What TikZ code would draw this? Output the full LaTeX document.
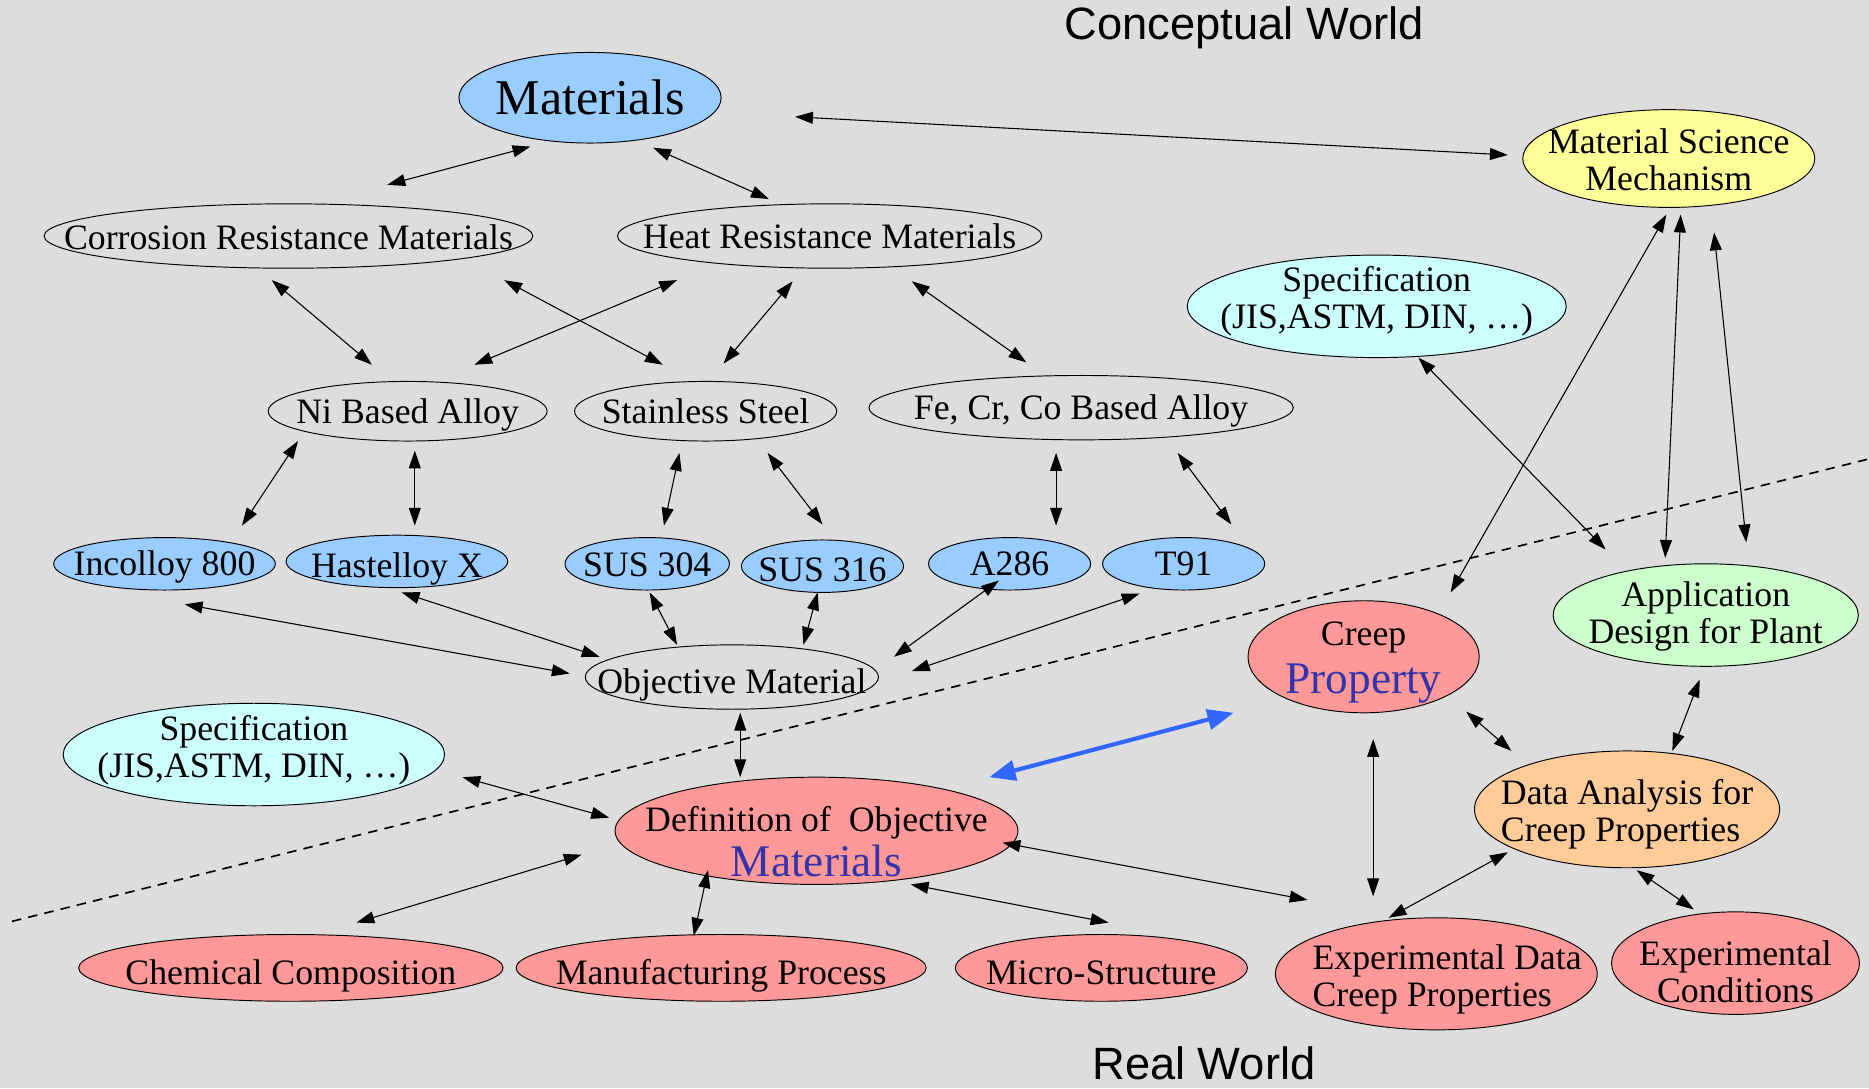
\documentclass[tikz,border=0pt]{standalone}
\usepackage{fontspec}
\setmainfont{Liberation Serif}
\newfontfamily\worldfont{Liberation Sans}
\usetikzlibrary{shapes.geometric,arrows.meta}

\definecolor{bggray}{RGB}{221,221,221}
\definecolor{alloyblue}{RGB}{153,204,255}
\definecolor{speccyan}{RGB}{204,255,255}
\definecolor{mechyellow}{RGB}{255,255,153}
\definecolor{appgreen}{RGB}{204,255,204}
\definecolor{realred}{RGB}{255,153,153}
\definecolor{dataorange}{RGB}{255,204,153}
\definecolor{textblue}{RGB}{51,51,170}
\definecolor{linkblue}{RGB}{51,102,255}

\tikzset{
  blob/.style={ellipse, draw, line width=0.8pt, inner sep=0pt},
  esize/.style 2 args={minimum width=#1pt, minimum height=#2pt},
  lbl/.style={font=\fontsize{30}{31}\selectfont, align=center, inner sep=0pt, yshift=-3pt},
  lblleft/.style={font=\fontsize{30}{31}\selectfont, align=left, inner sep=0pt},
  world/.style={font=\worldfont\fontsize{38}{40}\selectfont, inner sep=0pt},
  link/.style={{Triangle[length=15pt,width=10pt]}-{Triangle[length=15pt,width=10pt]}, line width=0.9pt},
  biglink/.style={{Triangle[length=22pt,width=17pt]}-{Triangle[length=22pt,width=17pt]}, line width=3.5pt, linkblue},
  divide/.style={dash pattern=on 8pt off 6pt, line width=1.4pt},
}

\begin{document}
\begin{tikzpicture}[x=1pt, y=-1pt]
\fill[bggray] (0,0) rectangle (1568,913);
\useasboundingbox (0,0) rectangle (1568,913);

% world boundary
\coordinate (dl) at (10,773);
\coordinate (dr) at (1568,385);
\draw[divide] (dl) -- (dr);

\node[world] (cw) at (1044,23) {Conceptual World};
\node[world] (rw) at (1010,892) {Real World};

% conceptual world
\node[blob, esize={220}{76}, fill=alloyblue, label={[lbl, yshift=3pt, font=\fontsize{42}{44}\selectfont]center:Materials}] (mat) at (495,82) {};
\node[blob, esize={410}{54}, label={[lbl, yshift=2pt]center:Corrosion Resistance Materials}] (cor) at (242,198) {};
\node[blob, esize={356}{54}, label={[lbl, yshift=3pt]center:Heat Resistance Materials}] (heat) at (696,198) {};
\node[blob, esize={234}{50}, label={[lbl]center:Ni Based Alloy}] (ni) at (342,345) {};
\node[blob, esize={220}{50}, label={[lbl, yshift=3pt]center:Stainless Steel}] (ss) at (592,345) {};
\node[blob, esize={356}{54}, label={[lbl]center:{Fe, Cr, Co Based Alloy}}] (fe) at (907,342) {};
\node[blob, esize={186}{44}, fill=alloyblue, label={[lbl]center:Incolloy 800}] (inc) at (138,473) {};
\node[blob, esize={186}{44}, fill=alloyblue, label={[lbl, yshift=-3pt]center:Hastelloy X}] (has) at (333,471) {};
\node[blob, esize={138}{44}, fill=alloyblue, label={[lbl, yshift=2pt]center:SUS 304}] (s304) at (543,473) {};
\node[blob, esize={136}{44}, fill=alloyblue, label={[lbl]center:SUS 316}] (s316) at (690,475) {};
\node[blob, esize={136}{44}, fill=alloyblue, label={[lbl, yshift=3pt]center:A286}] (a286) at (847,473) {};
\node[blob, esize={136}{44}, fill=alloyblue, label={[lbl, yshift=3pt]center:T91}] (t91) at (993,473) {};
\node[blob, esize={246}{54}, label={[lbl, yshift=-4pt]center:Objective Material}] (obj) at (614,568) {};
\node[blob, esize={320}{86}, fill=speccyan, label={[lbl, yshift=7pt]center:{Specification\\(JIS,ASTM, DIN, \dots)}}] (specl) at (213,633) {};
\node[blob, esize={318}{86}, fill=speccyan, label={[lbl, yshift=7pt]center:{Specification\\(JIS,ASTM, DIN, \dots)}}] (specr) at (1155,257) {};
\node[blob, esize={245}{82}, fill=mechyellow, label={[lbl, yshift=2pt]center:{Material Science\\Mechanism}}] (mech) at (1400,133) {};
\node[blob, esize={256}{86}, fill=appgreen, label={[lbl, yshift=2pt]center:{Application\\Design for Plant}}] (app) at (1431,516) {};

% real world
\node[blob, esize={194}{94}, fill=realred, label={[lbl, yshift=-2pt]center:{Creep\\[8pt]{\fontsize{38}{38}\selectfont\color{textblue}Property}}}] (creep) at (1144,551) {};
\node[blob, esize={256}{98}, fill=dataorange, label={[lblleft, yshift=-4pt]center:{Data Analysis for\\Creep Properties}}] (data) at (1365,679) {};
\node[blob, esize={338}{90}, fill=realred, label={[lbl, yshift=-6pt]center:{Definition of~ Objective\\[4pt]{\fontsize{38}{38}\selectfont\color{textblue}Materials}}}] (defn) at (685,697) {};
\node[blob, esize={356}{56}, fill=realred, label={[lbl, yshift=-4pt]center:Chemical Composition}] (chem) at (244,812) {};
\node[blob, esize={344}{56}, fill=realred, label={[lbl, yshift=-4pt]center:Manufacturing Process}] (manu) at (605,812) {};
\node[blob, esize={245}{56}, fill=realred, label={[lbl, yshift=-1pt]center:Micro-Structure}] (micro) at (924,812) {};
\node[blob, esize={270}{94}, fill=realred, label={[lblleft, yshift=-5pt, xshift=9pt]center:{Experimental Data\\Creep Properties}}] (expd) at (1205,817) {};
\node[blob, esize={208}{86}, fill=realred, label={[lbl, yshift=-4pt]center:{Experimental\\Conditions}}] (expc) at (1456,808) {};

% links
\draw[link] ([shift={(-50,41)}]mat.center) -- ([shift={(83,-43)}]cor.center);
\draw[link] ([shift={(53,42)}]mat.center) -- ([shift={(-51,-31)}]heat.center);
\draw[link] ([shift={(172,16)}]mat.center) -- ([shift={(-135,-3)}]mech.center);
\draw[link] ([shift={(-14,37)}]cor.center) -- ([shift={(-30,-39)}]ni.center);
\draw[link] ([shift={(181,37)}]cor.center) -- ([shift={(-36,-39)}]ss.center);
\draw[link] ([shift={(-128,37)}]heat.center) -- ([shift={(56,-39)}]ni.center);
\draw[link] ([shift={(-31,38)}]heat.center) -- ([shift={(15,-40)}]ss.center);
\draw[link] ([shift={(69,38)}]heat.center) -- ([shift={(-46,-38)}]fe.center);
\draw[link] ([shift={(-92,25)}]ni.center) -- ([shift={(65,-32)}]inc.center);
\draw[link] ([shift={(6,33)}]ni.center) -- ([shift={(15,-30)}]has.center);
\draw[link] ([shift={(-22,35)}]ss.center) -- ([shift={(14,-32)}]s304.center);
\draw[link] ([shift={(52,35)}]ss.center) -- ([shift={(0,-35)}]s316.center);
\draw[link] ([shift={(-21,38)}]fe.center) -- ([shift={(39,-32)}]a286.center);
\draw[link] ([shift={(81,38)}]fe.center) -- ([shift={(40,-33)}]t91.center);
\draw[link] ([shift={(17,34)}]inc.center) -- ([shift={(-136,-3)}]obj.center);
\draw[link] ([shift={(4,26)}]has.center) -- ([shift={(-111,-17)}]obj.center);
\draw[link] ([shift={(2,24)}]s304.center) -- ([shift={(-46,-27)}]obj.center);
\draw[link] ([shift={(-4,22)}]s316.center) -- ([shift={(60,-27)}]obj.center);
\draw[link] ([shift={(-9,14)}]a286.center) -- ([shift={(136,-17)}]obj.center);
\draw[link] ([shift={(-37,25)}]t91.center) -- ([shift={(151,-5)}]obj.center);
\draw[link] ([shift={(7,30)}]obj.center) -- ([shift={(-64,-45)}]defn.center);
\draw[link] ([shift={(175,19)}]specl.center) -- ([shift={(-174,-11)}]defn.center);
\draw[link] ([shift={(-197,20)}]defn.center) -- ([shift={(55,-38)}]chem.center);
\draw[link] ([shift={(-91,33)}]defn.center) -- ([shift={(-23,-27)}]manu.center);
\draw[link] ([shift={(79,45)}]defn.center) -- ([shift={(6,-38)}]micro.center);
\draw[link] ([shift={(156,10)}]defn.center) -- ([shift={(-108,-62)}]expd.center);
\draw[link] ([shift={(35,43)}]specr.center) -- ([shift={(-84,-55)}]app.center);
\draw[link] ([shift={(-2,47)}]mech.center) -- ([shift={(73,-54)}]creep.center);
\draw[link] ([shift={(10,47)}]mech.center) -- ([shift={(-34,-48)}]app.center);
\draw[link] ([shift={(38,62)}]mech.center) -- ([shift={(34,-61)}]app.center);
\draw[link] ([shift={(8,69)}]creep.center) -- ([shift={(-53,-65)}]expd.center);
\draw[link] ([shift={(86,46)}]creep.center) -- ([shift={(-97,-49)}]data.center);
\draw[link] ([shift={(-5,54)}]app.center) -- ([shift={(38,-49)}]data.center);
\draw[link] ([shift={(-100,36)}]data.center) -- ([shift={(-40,-47)}]expd.center);
\draw[link] ([shift={(8,51)}]data.center) -- ([shift={(-35,-45)}]expc.center);
\draw[biglink] ([shift={(145,-45)}]defn.center) -- ([shift={(-109,47)}]creep.center);
\end{tikzpicture}
\end{document}
